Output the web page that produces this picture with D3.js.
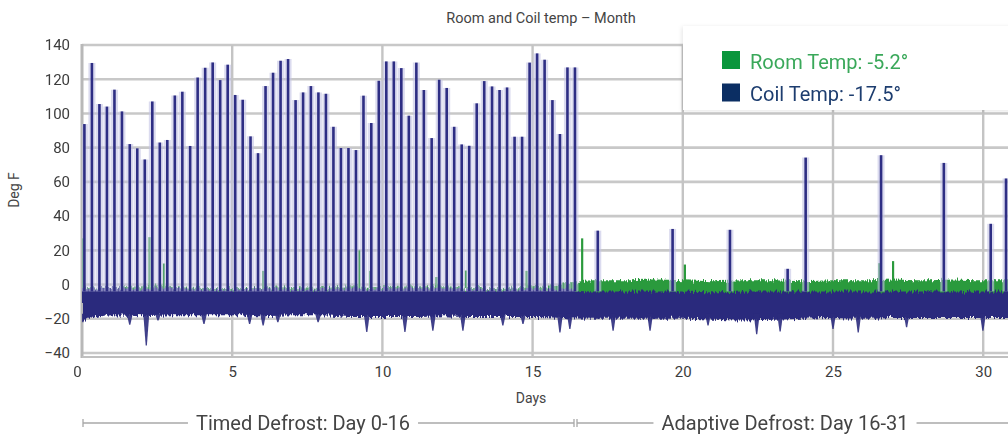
<!DOCTYPE html>
<html>
<head>
<meta charset="utf-8">
<script src="https://cdn.jsdelivr.net/npm/d3@7"></script>
<style>
  html, body { margin: 0; padding: 0; background: #fff; }
  svg { display: block; font-family: Roboto, "DejaVu Sans", sans-serif; }
</style>
</head>
<body>
<div id="chart"></div>
<script>
// timed defrost cycles (coil spikes), day 0-16
const timedDays = [0.08, 0.33, 0.58, 0.83, 1.08, 1.33, 1.59, 1.84, 2.09, 2.34,
  2.59, 2.84, 3.09, 3.34, 3.60, 3.85, 4.10, 4.35, 4.60, 4.85,
  5.10, 5.35, 5.61, 5.86, 6.11, 6.36, 6.61, 6.86, 7.11, 7.36,
  7.62, 7.87, 8.12, 8.37, 8.62, 8.87, 9.12, 9.37, 9.63, 9.88,
  10.13, 10.38, 10.63, 10.88, 11.13, 11.38, 11.64, 11.89, 12.14, 12.39,
  12.64, 12.89, 13.14, 13.39, 13.65, 13.90, 14.15, 14.40, 14.65, 14.90,
  15.15, 15.40, 15.66, 15.91, 16.16, 16.41];
const timedPeaks = [93.8, 129.5, 105.5, 104, 113.9, 101.2, 82.1, 79.6, 73.1, 107,
  83, 84.5, 110.5, 112.7, 81, 121, 126.7, 129.8, 119.5, 128.5,
  110.8, 108, 86.6, 76.8, 116, 123.8, 130.8, 131.8, 107.8, 112.3,
  116, 112.3, 111.5, 92.2, 79.8, 79.8, 78.6, 110.4, 94.4, 119.1,
  130.4, 130.4, 126.5, 98.7, 129.7, 113.7, 85.6, 119.7, 114.9, 92.2,
  81.9, 81.1, 105.9, 118.9, 115.8, 113.7, 115.2, 86.4, 86.4, 129.7,
  135.1, 131.4, 107.8, 88, 126.9, 126.9];

// adaptive defrost cycles, day 16-31
const adaptiveDays = [17.17, 19.66, 21.57, 23.49, 24.09, 26.60, 28.69, 30.25, 30.76];
const adaptivePeaks = [31.5, 32.5, 32, 9.2, 74.2, 75.6, 71.1, 35.5, 62];

// daily envelope of the dense readings
const bandDays = [0, 1, 2, 3, 4, 5, 6, 7, 8, 9, 10, 11, 12, 13, 14, 15, 16,
  17, 18, 19, 20, 21, 22, 23, 24, 25, 26, 27, 28, 29, 30, 31];
const coilLow = [-21, -18, -18.5, -18, -18, -18, -18.5, -18, -18, -19, -19, -19, -18.5, -19, -19, -19, -19.5,
  -20, -20, -20, -20, -20.5, -21, -20.5, -20, -19.5, -20, -19.5, -19.5, -19.5, -19.5, -19.5];
const coilHigh = [-2, -2, -2.5, -2, -3, -3, -2.5, -3, -3, -2, -2.5, -2, -2, -3, -3, -2.5, -3,
  -4, -4, -4, -4, -4.5, -4, -4, -4, -4, -4, -4, -4, -4, -4, -4];
const roomHigh = [-1, -2, -1, -1.5, -2, -2, -2, -1.5, -2, -1, -1.5, -1, -1, -2, -2, -1, 0,
  2.5, 2.5, 3, 2.5, 2, 2.5, 2.5, 2, 2.5, 2.5, 3, 2.5, 3, 2.5, 2.5];
const roomLow = -8;

// short downward coil dips
const dipDays = [0.03, 1.59, 2.14, 2.53, 4.06, 5.58, 6.03, 6.52, 7.86, 9.48, 10.75, 11.68, 12.68,
  14.01, 14.68, 15.91, 16.24, 17.68, 18.91, 20.84, 22.46, 23.24, 25.0, 25.84, 27.45, 29.99];
const dipLows = [-22, -23.5, -35.6, -21, -23, -23, -24, -22, -22, -27.8, -27.8, -27, -27,
  -24, -23, -28, -26, -27, -27, -24, -29, -27.5, -26, -28, -25, -27];

// room temp spikes
const roomSpikeDays = [0.03, 2.25, 2.73, 6.03, 9.23, 9.59, 11.8, 12.78, 14.8, 16.65, 20.07, 26.54, 27.0];
const roomSpikeTops = [27, 27.7, 12.3, 8, 20, 8, 4.4, 8.2, 8, 27, 11.7, 12.5, 13.7];

const yTicks = [-40, -20, 0, 20, 40, 60, 80, 100, 120, 140];
const xTicks = [0, 5, 10, 15, 20, 25, 30];

const legendItems = [
  { label: "Room Temp: -5.2°", box: "#0a963c", text: "#3aa85a" },
  { label: "Coil Temp: -17.5°", box: "#0b2e63", text: "#1d3d6f" },
];

const periods = [
  { label: "Timed Defrost: Day 0-16", from: 83, to: 574, textX: 303 },
  { label: "Adaptive Defrost: Day 16-31", from: 577, to: 1012, textX: 785 },
];

const width = 1008, height = 435;
const plotLeft = 82, plotRight = 1008, plotTop = 45, plotBottom = 353;
const navy = "#2b2b7d", green = "#2a9a3c";

const svg = d3.select("#chart").append("svg")
  .attr("width", width).attr("height", height);

const defs = svg.append("defs");
defs.append("clipPath").attr("id", "plot-clip")
  .append("rect").attr("x", plotLeft).attr("y", plotTop - 5)
  .attr("width", plotRight - plotLeft).attr("height", plotBottom - plotTop + 8);
const rough = defs.append("filter").attr("id", "rough")
  .attr("x", "-2%").attr("y", "-40%").attr("width", "104%").attr("height", "180%");
rough.append("feTurbulence").attr("type", "fractalNoise")
  .attr("baseFrequency", "0.7 0.04").attr("numOctaves", 2).attr("seed", 4).attr("result", "n");
rough.append("feDisplacementMap").attr("in", "SourceGraphic").attr("in2", "n")
  .attr("scale", 8).attr("xChannelSelector", "R").attr("yChannelSelector", "G");
const soft = defs.append("filter").attr("id", "soft");
soft.append("feGaussianBlur").attr("stdDeviation", 0.5);
const shadow = defs.append("filter").attr("id", "shadow")
  .attr("x", "-10%").attr("y", "-10%").attr("width", "120%").attr("height", "130%");
shadow.append("feDropShadow").attr("dx", -1).attr("dy", 1)
  .attr("stdDeviation", 2).attr("flood-color", "#000").attr("flood-opacity", 0.1);

const xScale = d3.scaleLinear().domain([0, 30]).range([plotLeft, plotLeft + 30 * 30.04]);
const yScale = d3.scaleLinear().domain([-40, 140]).range([plotBottom, plotTop]);

// title
svg.append("text").attr("x", 541).attr("y", 23).attr("text-anchor", "middle")
  .attr("font-size", 14.5).attr("fill", "#444").text("Room and Coil temp – Month");

// grid
const gridG = svg.append("g").attr("id", "grid-g");
gridG.selectAll("line.h").data(yTicks).join("line").attr("class", "h")
  .attr("x1", plotLeft).attr("x2", plotRight)
  .attr("y1", (d) => yScale(d)).attr("y2", (d) => yScale(d))
  .attr("stroke", "#c8c8c8").attr("stroke-width", 2.6);
gridG.selectAll("line.v").data(xTicks.filter((d) => d > 0)).join("line").attr("class", "v")
  .attr("x1", (d) => xScale(d)).attr("x2", (d) => xScale(d))
  .attr("y1", plotTop).attr("y2", plotBottom + 4)
  .attr("stroke", "#c4c4c4").attr("stroke-width", 2.4);
gridG.append("line").attr("x1", plotLeft).attr("x2", plotLeft).attr("y1", plotTop - 1).attr("y2", plotBottom + 5)
  .attr("stroke", "#b8b8b8").attr("stroke-width", 3);
gridG.append("line").attr("x1", plotLeft).attr("x2", plotRight).attr("y1", plotBottom + 4).attr("y2", plotBottom + 4)
  .attr("stroke", "#c0c0c0").attr("stroke-width", 2);

// series
const plotG = svg.append("g").attr("clip-path", "url(#plot-clip)");
const bandG = plotG.append("g").attr("filter", "url(#rough)");

const roomArea = d3.area().x((d, i) => xScale(bandDays[i]))
  .y0(() => yScale(roomLow)).y1((d) => yScale(d)).curve(d3.curveMonotoneX);
bandG.append("path").datum(roomHigh).attr("d", roomArea).attr("fill", green);

const coilArea = d3.area().x((d, i) => xScale(bandDays[i]))
  .y0((d) => yScale(d)).y1((d, i) => yScale(coilHigh[i])).curve(d3.curveMonotoneX);
bandG.append("path").datum(coilLow).attr("d", coilArea).attr("fill", navy);

// dips
const dips = dipDays.map((d, i) => ({ day: d, low: dipLows[i] }));
plotG.append("g").selectAll("path").data(dips).join("path")
  .attr("d", (d) => {
    const base = yScale(-17);
    const xc = xScale(d.day);
    return `M${xc - 3},${base}L${xc - 0.6},${yScale(d.low)}L${xc + 0.6},${yScale(d.low)}L${xc + 3},${base}Z`;
  })
  .attr("fill", navy).attr("opacity", 0.9);

// room spikes
const roomSpikes = roomSpikeDays.map((d, i) => ({ day: d, top: roomSpikeTops[i] }));
plotG.append("g").selectAll("line").data(roomSpikes).join("line")
  .attr("x1", (d) => xScale(d.day)).attr("x2", (d) => xScale(d.day))
  .attr("y1", yScale(-2)).attr("y2", (d) => yScale(d.top))
  .attr("stroke", green).attr("stroke-width", 2.2);

// coil spikes
const spikes = timedDays.map((d, i) => ({ day: d, top: timedPeaks[i] }))
  .concat(adaptiveDays.map((d, i) => ({ day: d, top: adaptivePeaks[i] })));
const spikeG = plotG.append("g").attr("filter", "url(#soft)");
spikeG.selectAll("line.halo").data(spikes).join("line").attr("class", "halo")
  .attr("x1", (d) => xScale(d.day)).attr("x2", (d) => xScale(d.day))
  .attr("y1", yScale(-4)).attr("y2", (d) => yScale(d.top))
  .attr("stroke", "#c4c4e4").attr("stroke-width", 7).attr("opacity", 0.6);
spikeG.selectAll("line.core").data(spikes).join("line").attr("class", "core")
  .attr("x1", (d) => xScale(d.day)).attr("x2", (d) => xScale(d.day))
  .attr("y1", yScale(-4)).attr("y2", (d) => yScale(d.top))
  .attr("stroke", "#2e2e84").attr("stroke-width", 2.6);

// axes
const yAxisG = svg.append("g").attr("transform", `translate(${plotLeft},0)`)
  .call(d3.axisLeft(yScale).tickValues(yTicks).tickSize(0).tickPadding(12));
const xAxisG = svg.append("g").attr("transform", `translate(0,${plotBottom + 4})`)
  .call(d3.axisBottom(xScale).tickValues(xTicks).tickSize(0).tickPadding(9));
[yAxisG, xAxisG].forEach((g) => {
  g.select(".domain").remove();
  g.selectAll("text").attr("font-size", 15).attr("fill", "#3c3c3c")
    .attr("font-family", "Roboto, 'DejaVu Sans', sans-serif");
});
xAxisG.selectAll("text").filter((d) => d === 0).attr("dx", -5);

svg.append("text").attr("transform", "translate(19,190) rotate(-90)")
  .attr("text-anchor", "middle").attr("font-size", 14).attr("fill", "#444").text("Deg F");
svg.append("text").attr("x", 531).attr("y", 403).attr("text-anchor", "middle")
  .attr("font-size", 14).attr("fill", "#444").text("Days");

// legend
const legendG = svg.append("g").attr("id", "legend-g");
legendG.append("rect").attr("x", 683).attr("y", 26).attr("width", 340).attr("height", 84)
  .attr("fill", "#fff").attr("filter", "url(#shadow)");
legendItems.forEach((item, i) => {
  const y = 51 + i * 32.5;
  legendG.append("rect").attr("x", 722).attr("y", y).attr("width", 18).attr("height", 18)
    .attr("fill", item.box);
  legendG.append("text").attr("x", 750).attr("y", y + 17.5).attr("font-size", 20)
    .attr("fill", item.text).text(item.label);
});

// defrost period annotation
const annY = 423;
const annG = svg.append("g").attr("id", "periods-g");
periods.forEach((p) => {
  const t = annG.append("text").attr("x", p.textX).attr("y", 430).attr("text-anchor", "middle")
    .attr("font-size", 20).attr("fill", "#444").text(p.label);
  const box = t.node().getBBox();
  [[p.from, box.x - 8], [box.x + box.width + 8, p.to]].forEach(([a, b]) => {
    annG.append("line").attr("x1", a).attr("x2", b).attr("y1", annY).attr("y2", annY)
      .attr("stroke", "#a8a8a8").attr("stroke-width", 1.3);
  });
  annG.append("line").attr("x1", p.from).attr("x2", p.from).attr("y1", annY - 4).attr("y2", annY + 4)
    .attr("stroke", "#a8a8a8").attr("stroke-width", 1.3);
  if (p.to < width) {
    annG.append("line").attr("x1", p.to).attr("x2", p.to).attr("y1", annY - 4).attr("y2", annY + 4)
      .attr("stroke", "#a8a8a8").attr("stroke-width", 1.3);
  }
});
</script>
</body>
</html>
